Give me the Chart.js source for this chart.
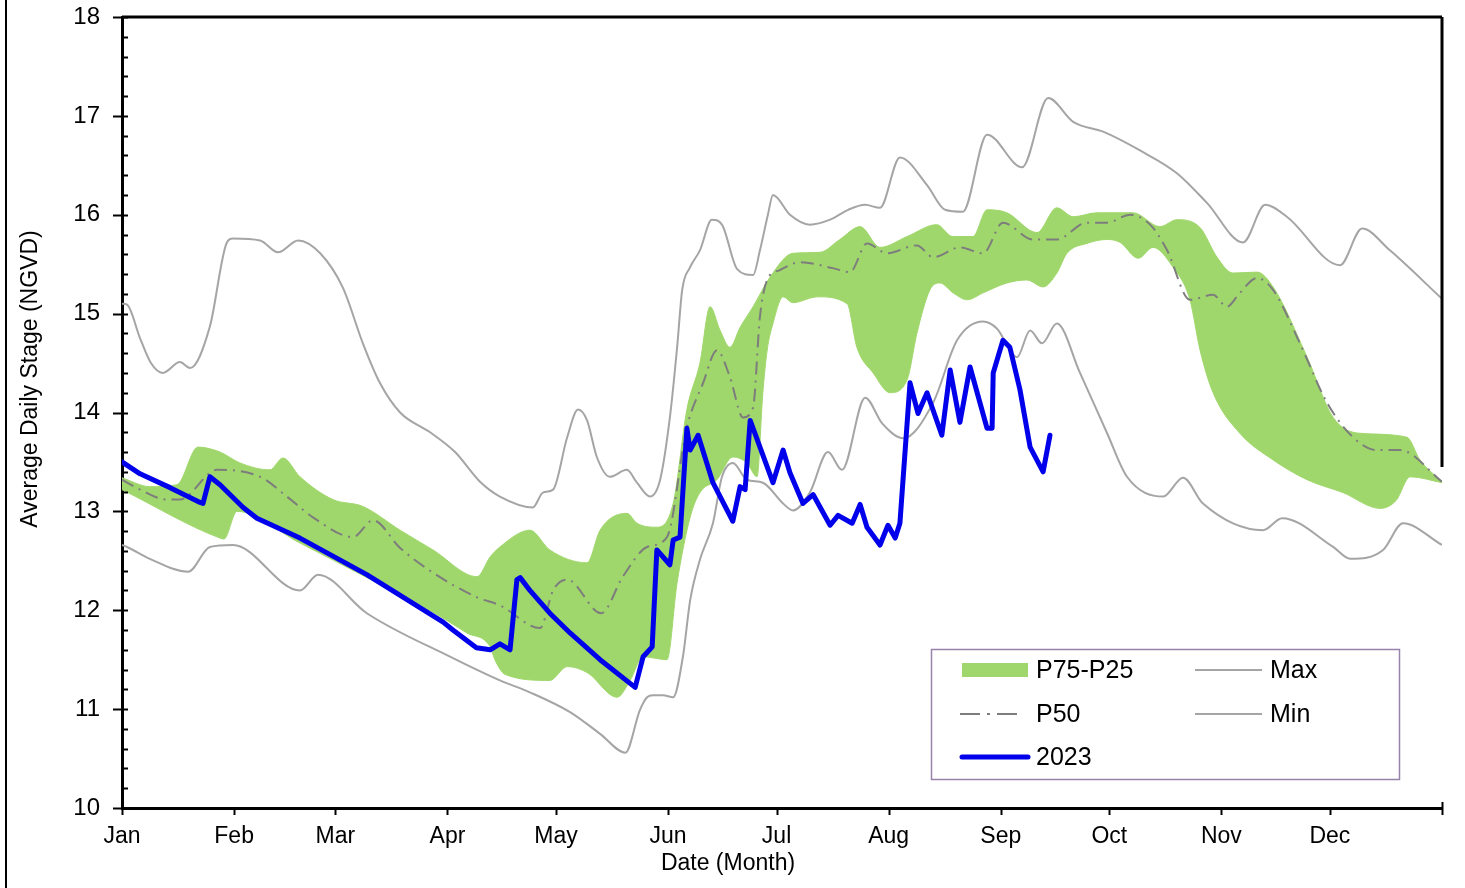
<!DOCTYPE html>
<html><head><meta charset="utf-8">
<script src="https://cdn.jsdelivr.net/npm/chart.js@4.4.0/dist/chart.umd.min.js"></script>
<style>html,body{margin:0;padding:0;background:#fff;}canvas{display:block;}</style>
</head><body>
<canvas id="c" width="1465" height="888"></canvas>
<script>
// ---- data (day of year, stage in ft NGVD) ----
const monthDays = [0,31,59,90,120,151,181,212,243,273,304,334,365];
const monthLabels = ['Jan','Feb','Mar','Apr','May','Jun','Jul','Aug','Sep','Oct','Nov','Dec',''];
const yTickValues = [10,11,12,13,14,15,16,17,18];
const seriesNames = ['P75-P25','P50','2023','Max','Min'];
const xTitle = 'Date (Month)';
const yTitle = 'Average Daily Stage (NGVD)';

const MAX = [[0,15.10],[1.4,15.09],[5,14.75],[8,14.5],[11.3,14.40],[16,14.51],[18.8,14.45],[24.3,14.87],[29,15.72],[30.7,15.76],[38.2,15.74],[43.1,15.62],[48.7,15.74],[54.8,15.61],[61.1,15.26],[66.6,14.70],[71.3,14.30],[76.9,14.00],[85.2,13.80],[92.1,13.60],[99,13.30],[104.5,13.15],[113.6,13.04],[116.4,13.19],[119.2,13.22],[123.1,13.75],[126.1,14.03],[128.6,13.92],[131.3,13.55],[134.9,13.35],[139.6,13.42],[142.4,13.29],[146,13.15],[148.8,13.32],[151.5,13.95],[153.5,14.66],[154.9,15.24],[157.1,15.47],[159.8,15.64],[163.1,15.95],[165.9,15.90],[170.1,15.45],[174.5,15.39],[176.4,15.64],[178.6,16.00],[180,16.20],[184.7,16.00],[190.2,15.90],[195.8,15.95],[200.8,16.05],[205.5,16.10],[209.6,16.07],[215.1,16.58],[222.6,16.30],[227.6,16.05],[232.5,16.03],[239.2,16.81],[248.9,16.48],[256.1,17.18],[263,16.94],[271.3,16.84],[281.5,16.65],[291.7,16.42],[300,16.12],[310,15.72],[316.1,16.10],[322.1,15.98],[336.8,15.49],[342.9,15.86],[350.6,15.64],[365,15.15]];

const MIN = [[0,12.66],[1.4,12.64],[7.7,12.52],[18.3,12.39],[24.3,12.64],[30.7,12.66],[49.2,12.20],[54.2,12.36],[67.7,11.97],[90.7,11.53],[104.5,11.29],[112.8,11.17],[123.9,10.97],[132.2,10.75],[139.2,10.56],[143.2,10.99],[145.2,11.12],[146.8,11.14],[149.6,11.14],[152.4,11.12],[155.1,11.53],[157.1,12.10],[159.8,12.51],[163.4,12.88],[165.9,13.35],[168.9,13.49],[172.8,13.32],[177.2,13.29],[182.8,13.08],[185.5,13.01],[190.2,13.19],[195.2,13.60],[199.1,13.42],[205.5,14.15],[210.2,13.89],[216,13.74],[224.3,14.10],[230.9,14.73],[238.1,14.92],[241.9,14.85],[247.5,14.56],[251.1,14.83],[254.4,14.70],[258.5,14.90],[264.9,14.40],[272.4,13.79],[277.9,13.35],[287.9,13.15],[293.4,13.34],[298.9,13.08],[315.5,12.81],[320.8,12.93],[334.9,12.64],[339.6,12.52],[348.7,12.61],[354.2,12.88],[365,12.66]];

const P50 = [[0,13.32],[5,13.22],[12.4,13.12],[16,13.12],[26.3,13.42],[38.2,13.35],[45.6,13.15],[52.8,12.94],[63.9,12.74],[69.4,12.91],[76.9,12.63],[86,12.38],[98.2,12.13],[104.5,12.05],[115.6,11.82],[119.2,12.20],[123.1,12.31],[132.5,11.97],[138.5,12.34],[145.2,12.64],[150.7,12.74],[156.2,13.85],[160.7,14.30],[164.5,14.63],[168.1,14.36],[171.7,13.95],[174.5,14.05],[176.4,14.97],[178.4,15.34],[181.9,15.44],[187.5,15.52],[196.6,15.46],[201.3,15.42],[206,15.71],[211.5,15.61],[219.8,15.69],[224.3,15.57],[231.7,15.67],[238.1,15.61],[243.6,15.92],[251.9,15.75],[258.5,15.75],[266.8,15.92],[272.4,15.92],[278.7,16.00],[284.3,15.90],[289,15.64],[295.3,15.14],[301.7,15.19],[305.5,15.07],[309.1,15.21],[313.8,15.36],[318.3,15.24],[325.7,14.70],[333.2,14.10],[340.4,13.75],[347,13.62],[353.4,13.62],[365,13.30]];

const P75 = [[0,13.34],[7.7,13.25],[15.2,13.27],[21,13.65],[27.1,13.60],[32.6,13.49],[40.9,13.42],[44.5,13.54],[49.2,13.35],[58.3,13.12],[66.6,13.05],[76.9,12.81],[86,12.61],[98.2,12.34],[101.8,12.54],[104.5,12.64],[112.8,12.81],[118.3,12.61],[128.6,12.48],[132.2,12.81],[139.6,12.98],[142.4,12.88],[147.9,12.84],[152.4,13.08],[156.2,14.03],[159.8,14.50],[162.6,15.07],[165.4,14.83],[168.1,14.66],[170.9,14.86],[174.5,15.07],[179.2,15.37],[185.5,15.61],[193,15.62],[198.5,15.75],[204.1,15.88],[209.6,15.67],[217.1,15.78],[225.3,15.90],[229.7,15.78],[235.3,15.78],[239.2,16.05],[244.7,16.02],[253,15.82],[258.5,16.07],[263,15.98],[269.6,16.02],[279.6,16.02],[287,15.88],[291.7,15.95],[298.1,15.87],[302.8,15.57],[307.2,15.41],[313.8,15.42],[318.3,15.27],[327.7,14.56],[334.9,13.95],[342.3,13.79],[355.3,13.75],[358.9,13.52],[365,13.30]];

const P25 = [[0,13.22],[27.1,12.73],[28.2,12.72],[31.8,13.00],[49.2,12.68],[67.7,12.33],[86,11.98],[95.4,11.77],[101.8,11.63],[103.1,11.50],[106,11.35],[118.3,11.29],[123.1,11.43],[128.6,11.37],[136.9,11.12],[140.5,11.29],[144.1,11.53],[150.7,11.50],[153.5,12.28],[157.1,12.94],[159.8,13.19],[164.5,13.32],[168.9,13.55],[172.8,13.49],[175.6,13.35],[177.2,14.20],[178.4,14.63],[180,14.90],[182.8,15.17],[185.5,15.11],[192.2,15.17],[200.5,15.10],[203.2,14.66],[207.7,14.40],[212.4,14.20],[217.1,14.33],[219.8,14.80],[223.4,15.24],[226.2,15.31],[229.8,15.21],[233.7,15.14],[238.1,15.21],[244.7,15.31],[250.2,15.34],[254.7,15.27],[258.5,15.41],[261.3,15.61],[266.8,15.71],[272.4,15.75],[276,15.72],[281,15.56],[285.1,15.67],[290.6,15.47],[295.3,15.14],[298.1,14.63],[301.7,14.20],[309.1,13.79],[318.3,13.52],[327.7,13.32],[337.6,13.19],[347.9,13.03],[352.3,13.11],[356.2,13.35],[365,13.29]];

const Y2023 = [[0,13.50],[5,13.38],[13.3,13.24],[21.6,13.09],[22.4,13.08],[24.3,13.35],[27.1,13.27],[33.5,13.04],[37.3,12.93],[49.2,12.73],[67.7,12.36],[88.8,11.88],[91.5,11.80],[98,11.62],[101.8,11.60],[104.5,11.66],[107.3,11.60],[109.2,12.31],[110.1,12.33],[112.8,12.20],[118.3,11.97],[123.9,11.77],[132.2,11.50],[141.9,11.22],[144.1,11.53],[146.6,11.63],[147.9,12.61],[151.5,12.46],[152.4,12.71],[154.3,12.74],[156.2,13.84],[157.1,13.62],[159.3,13.77],[163.4,13.29],[168.9,12.90],[170.9,13.25],[172.3,13.22],[173.7,13.92],[180,13.29],[182.8,13.62],[184.7,13.39],[188.3,13.08],[191.1,13.17],[195.8,12.86],[198,12.96],[201.9,12.88],[204.1,13.07],[206,12.84],[209.6,12.66],[211.8,12.86],[213.8,12.73],[215.1,12.88],[217.9,14.30],[220.1,13.99],[222.6,14.20],[226.7,13.77],[229,14.43],[231.7,13.90],[234.5,14.46],[239.2,13.84],[240.6,13.84],[240.9,14.40],[243.6,14.73],[245.5,14.66],[248.3,14.23],[251.1,13.65],[254.7,13.40],[256.6,13.77]];

// ---- styles ----
const GREEN = 'rgb(160,215,108)';
const GRAY = 'rgb(165,165,165)';
const DGRAY = 'rgb(125,125,125)';
const BLUE = 'rgb(0,0,235)';
const FONT = '"Liberation Sans", Arial, sans-serif';

const pts = arr => arr.map(p => ({x:p[0], y:p[1]}));

const decor = {
  id: 'decor',
  afterDraw(chart) {
    const {ctx, chartArea:a, scales:{x, y}} = chart;
    ctx.save();
    ctx.strokeStyle = '#000';
    ctx.lineWidth = 2;
    // y ticks (major outside+inside, minor inside)
    for (let i = 0; i <= 40; i++) {
      const v = 10 + i * 0.2;
      const py = Math.round(y.getPixelForValue(v)) + 0.5;
      const major = i % 5 === 0;
      ctx.beginPath();
      ctx.moveTo(major ? a.left - 9 : a.left, py);
      ctx.lineTo(a.left + 6, py);
      ctx.stroke();
    }
    // x ticks
    monthDays.forEach(d => {
      const px = Math.round(x.getPixelForValue(d)) + 0.5;
      ctx.beginPath();
      ctx.moveTo(px, a.bottom - (d === 365 ? 6 : 0));
      ctx.lineTo(px, a.bottom + 7);
      ctx.stroke();
    });
    // top & right frame
    ctx.lineWidth = 3;
    ctx.beginPath(); ctx.moveTo(a.left, a.top); ctx.lineTo(a.right, a.top); ctx.stroke();
    ctx.beginPath(); ctx.moveTo(a.right, a.top); ctx.lineTo(a.right, y.getPixelForValue(13.45)); ctx.stroke();
    // page left frame
    ctx.lineWidth = 2;
    ctx.beginPath(); ctx.moveTo(6, 0); ctx.lineTo(6, 888); ctx.stroke();

    // axis titles
    ctx.fillStyle = '#000';
    ctx.font = '23px ' + FONT;
    ctx.textAlign = 'center'; ctx.textBaseline = 'middle';
    ctx.fillText(xTitle, 728, 864);
    ctx.save();
    ctx.translate(31, 379); ctx.rotate(-Math.PI / 2);
    ctx.fillText(yTitle, 0, 0);
    ctx.restore();

    // legend
    const bx = 931, by = 649, bw = 468, bh = 130;
    ctx.fillStyle = '#fff';
    ctx.fillRect(bx, by, bw, bh);
    ctx.strokeStyle = 'rgb(150,130,170)';
    ctx.lineWidth = 1.5;
    ctx.strokeRect(bx + 0.5, by + 0.5, bw, bh);
    const r1 = 670, r2 = 714, r3 = 757;
    ctx.fillStyle = GREEN;
    ctx.fillRect(962, r1 - 7, 66, 14);
    ctx.strokeStyle = GRAY; ctx.lineWidth = 2;
    ctx.beginPath(); ctx.moveTo(1195, r1); ctx.lineTo(1262, r1); ctx.stroke();
    ctx.beginPath(); ctx.moveTo(1195, r2); ctx.lineTo(1262, r2); ctx.stroke();
    ctx.strokeStyle = DGRAY; ctx.setLineDash([20, 7, 3, 7]);
    ctx.beginPath(); ctx.moveTo(960, r2); ctx.lineTo(1020, r2); ctx.stroke();
    ctx.setLineDash([]);
    ctx.strokeStyle = BLUE; ctx.lineWidth = 5; ctx.lineCap = 'round';
    ctx.beginPath(); ctx.moveTo(962, r3); ctx.lineTo(1028, r3); ctx.stroke();
    ctx.fillStyle = '#000';
    ctx.font = '25px ' + FONT;
    ctx.textAlign = 'left'; ctx.textBaseline = 'middle';
    ctx.fillText(seriesNames[0], 1036, r1 + 1);
    ctx.fillText(seriesNames[1], 1036, r2 + 1);
    ctx.fillText(seriesNames[2], 1036, r3 + 1);
    ctx.fillText(seriesNames[3], 1270, r1 + 1);
    ctx.fillText(seriesNames[4], 1270, r2 + 1);
    ctx.restore();
  }
};

Chart.defaults.font.family = FONT;
Chart.defaults.font.size = 24;
Chart.defaults.color = '#000';

new Chart(document.getElementById('c'), {
  type: 'line',
  data: {
    datasets: [
      {label: seriesNames[2], data: pts(Y2023), borderColor: BLUE, borderWidth: 5, pointRadius: 0, tension: 0, borderJoinStyle: 'round', borderCapStyle: 'round', fill: false},
      {label: seriesNames[1], data: pts(P50), borderColor: DGRAY, borderWidth: 2, borderDash: [13, 6, 2, 6], pointRadius: 0, cubicInterpolationMode: 'monotone', fill: false},
      {label: seriesNames[3], data: pts(MAX), borderColor: GRAY, borderWidth: 2, pointRadius: 0, cubicInterpolationMode: 'monotone', fill: false},
      {label: seriesNames[4], data: pts(MIN), borderColor: GRAY, borderWidth: 2, pointRadius: 0, cubicInterpolationMode: 'monotone', fill: false},
      {label: 'P75', data: pts(P75), borderColor: GREEN, borderWidth: 1, pointRadius: 0, cubicInterpolationMode: 'monotone', backgroundColor: GREEN, fill: '+1'},
      {label: 'P25', data: pts(P25), borderColor: GREEN, borderWidth: 1, pointRadius: 0, cubicInterpolationMode: 'monotone', fill: false}
    ]
  },
  options: {
    responsive: false,
    animation: false,
    devicePixelRatio: 1,
    layout: {padding: {left: 0, right: 23, top: 17, bottom: 0}},
    plugins: {legend: {display: false}, tooltip: {enabled: false}, title: {display: false}},
    scales: {
      x: {
        type: 'linear', min: 0, max: 365,
        grid: {display: false, drawTicks: false},
        border: {display: true, color: '#000', width: 3},
        afterBuildTicks: s => { s.ticks = monthDays.map(v => ({value: v})); },
        ticks: {autoSkip: false, maxRotation: 0, padding: 15, font: {size: 23},
          callback: (v, i) => monthLabels[i]},
        afterFit: s => { s.height = 80; s.paddingLeft = 0; s.paddingRight = 0; }
      },
      y: {
        type: 'linear', min: 10, max: 18,
        grid: {display: false, drawTicks: false},
        border: {display: true, color: '#000', width: 3},
        afterBuildTicks: s => { s.ticks = yTickValues.map(v => ({value: v})); },
        ticks: {padding: 22, font: {size: 24}, callback: v => String(v)},
        afterFit: s => { s.width = 122; s.paddingTop = 0; s.paddingBottom = 0; }
      }
    }
  },
  plugins: [decor]
});
</script>
</body></html>
